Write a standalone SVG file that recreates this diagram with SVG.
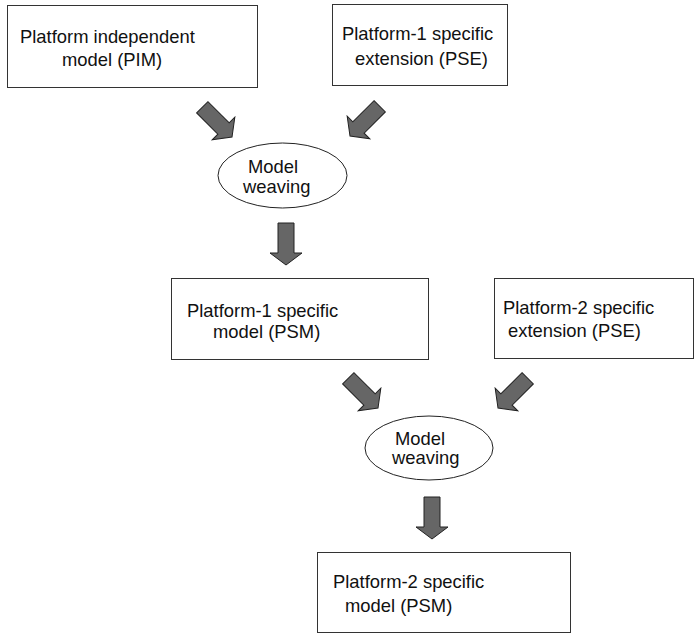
<svg xmlns="http://www.w3.org/2000/svg" width="694" height="633" viewBox="0 0 694 633">
  <style>
    .box { fill: #ffffff; stroke: #333333; stroke-width: 1; }
    .oval { fill: #ffffff; stroke: #222222; stroke-width: 1; }
    .lbl { font-family: "Liberation Sans", Arial, sans-serif; font-size: 18.4px; fill: #111111; }
    .arr { fill: #666666; stroke: #222222; stroke-width: 1; stroke-linejoin: miter; }
  </style>
  <defs>
    <!-- block arrow pointing down, tip at origin -->
    <polygon id="blockArrow" points="-8,-42 8,-42 8,-12 16,-12 0,0 -16,-12 -8,-12"/>
  </defs>
  <rect width="694" height="633" fill="#ffffff"/>

  <g id="connectors">
    <use href="#blockArrow" class="arr" transform="translate(232,137) rotate(-45)"/>
    <use href="#blockArrow" class="arr" transform="translate(350,136) rotate(45)"/>
    <use href="#blockArrow" class="arr" transform="translate(286,265)"/>
    <use href="#blockArrow" class="arr" transform="translate(378,408) rotate(-45)"/>
    <use href="#blockArrow" class="arr" transform="translate(498,408) rotate(45)"/>
    <use href="#blockArrow" class="arr" transform="translate(432,539)"/>
  </g>

  <g id="pim">
    <rect class="box" x="7.5" y="5.5" width="250" height="82"/>
    <text class="lbl" x="20" y="43">Platform independent</text>
    <text class="lbl" x="62" y="66">model (PIM)</text>
  </g>

  <g id="pse1">
    <rect class="box" x="332.5" y="4.5" width="175" height="81"/>
    <text class="lbl" x="342" y="40">Platform-1 specific</text>
    <text class="lbl" x="355" y="65">extension (PSE)</text>
  </g>

  <g id="weaving1">
    <ellipse class="oval" cx="282.5" cy="175.5" rx="64.5" ry="32.5"/>
    <text class="lbl" x="248" y="173">Model</text>
    <text class="lbl" x="243" y="193">weaving</text>
  </g>

  <g id="psm1">
    <rect class="box" x="171.5" y="278.5" width="257" height="81"/>
    <text class="lbl" x="187" y="317">Platform-1 specific</text>
    <text class="lbl" x="213" y="338">model (PSM)</text>
  </g>

  <g id="pse2">
    <rect class="box" x="494.5" y="278.5" width="199" height="80"/>
    <text class="lbl" x="503" y="314">Platform-2 specific</text>
    <text class="lbl" x="508" y="337">extension (PSE)</text>
  </g>

  <g id="weaving2">
    <ellipse class="oval" cx="429" cy="448" rx="64" ry="32"/>
    <text class="lbl" x="395" y="445">Model</text>
    <text class="lbl" x="392" y="464">weaving</text>
  </g>

  <g id="psm2">
    <rect class="box" x="317.5" y="552.5" width="253" height="80"/>
    <text class="lbl" x="333" y="588">Platform-2 specific</text>
    <text class="lbl" x="345" y="612">model (PSM)</text>
  </g>
</svg>
